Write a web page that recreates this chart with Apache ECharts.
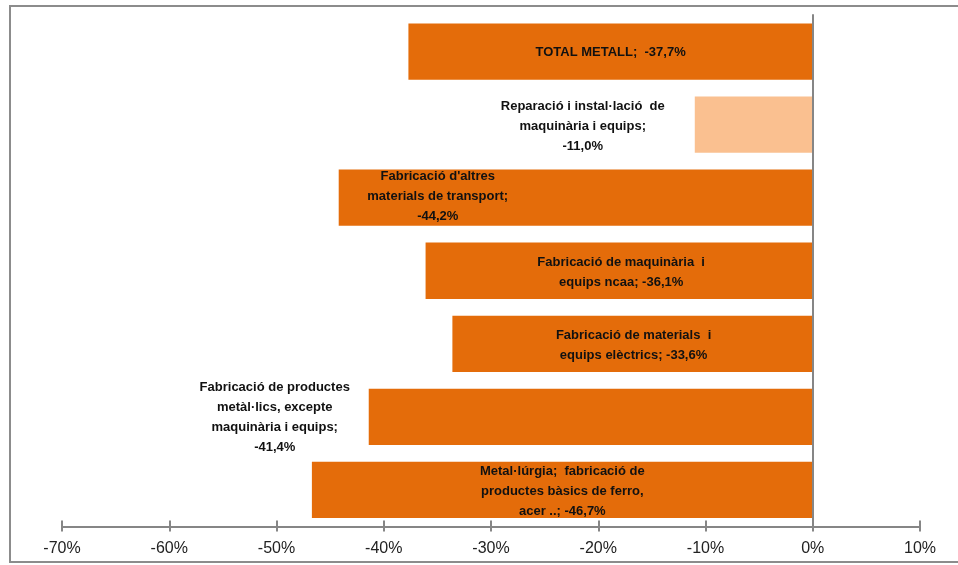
<!DOCTYPE html>
<html>
<head>
<meta charset="utf-8">
<script src="https://cdn.jsdelivr.net/npm/echarts@6/dist/echarts.min.js"></script>
<style>
html,body{margin:0;padding:0;background:#fff;}
#chart{width:958px;height:565px;}
</style>
</head>
<body>
<div id="chart"></div>
<script>
// ---- data ----
var categories = [
  "TOTAL METALL",
  "Reparació i instal·lació de maquinària i equips",
  "Fabricació d'altres materials de transport",
  "Fabricació de maquinària i equips ncaa",
  "Fabricació de materials i equips elèctrics",
  "Fabricació de productes metàl·lics, excepte maquinària i equips",
  "Metal·lúrgia; fabricació de productes bàsics de ferro, acer .."
];
var values = [-37.7, -11.0, -44.2, -36.1, -33.6, -41.4, -46.7];
var labelTexts = [
  "TOTAL METALL;  -37,7%",
  "Reparació i instal·lació  de\nmaquinària i equips;\n-11,0%",
  "Fabricació d'altres\nmaterials de transport;\n-44,2%",
  "Fabricació de maquinària  i\nequips ncaa; -36,1%",
  "Fabricació de materials  i\nequips elèctrics; -33,6%",
  "Fabricació de productes\nmetàl·lics, excepte\nmaquinària i equips;\n-41,4%",
  "Metal·lúrgia;  fabricació de\nproductes bàsics de ferro,\nacer ..; -46,7%"
];
var highlighted = [false, true, false, false, false, false, false];
var xTicks = [-70, -60, -50, -40, -30, -20, -10, 0, 10];

// ---- style ----
var DARK = '#E46C0A', LIGHT = '#FAC090', GRAY = '#868686';
var labelOffsets = [[0, 1], [-171, 2], [-138, -1], [2, 2], [1, 2], [-316, 1], [0, 1]];

var chart = echarts.init(document.getElementById('chart'), null, {renderer: 'canvas'});
var seriesData = values.map(function (v, i) {
  return {
    value: v,
    itemStyle: {color: highlighted[i] ? LIGHT : DARK},
    label: {offset: labelOffsets[i]}
  };
});

chart.setOption({
  animation: false,
  backgroundColor: '#fff',
  graphic: [{
    type: 'rect',
    shape: {x: 10, y: 6, width: 960, height: 556},
    style: {fill: 'none', stroke: '#8c8c8c', lineWidth: 2},
    silent: true
  }],
  grid: {left: 62, right: 38, top: 15, bottom: 38.5, containLabel: false},
  xAxis: [{
    type: 'value',
    min: xTicks[0], max: xTicks[xTicks.length - 1], interval: 10,
    splitLine: {show: false},
    axisLine: {show: true, lineStyle: {color: GRAY, width: 2}},
    axisTick: {show: true, inside: false, length: 5, lineStyle: {color: GRAY, width: 2}},
    axisLabel: {
      formatter: function (v) { return v + '%'; },
      fontFamily: 'Liberation Sans, Arial, sans-serif', fontSize: 16, color: '#222', margin: 14
    }
  }, {
    type: 'value',
    position: 'bottom',
    min: xTicks[0], max: xTicks[xTicks.length - 1], interval: 10,
    splitLine: {show: false},
    axisLine: {show: false},
    axisTick: {show: true, inside: true, length: 6, lineStyle: {color: GRAY, width: 2}},
    axisLabel: {show: false}
  }],
  yAxis: {
    type: 'category',
    data: categories,
    inverse: true,
    z: 10,
    axisLine: {show: true, onZero: true, lineStyle: {color: GRAY, width: 2}},
    axisTick: {show: false},
    axisLabel: {show: false},
    splitLine: {show: false}
  },
  series: [{
    type: 'bar',
    xAxisIndex: 0,
    data: seriesData,
    barCategoryGap: '23%',
    label: {
      show: true,
      position: 'inside',
      formatter: function (p) { return labelTexts[p.dataIndex]; },
      fontFamily: 'Liberation Sans, Arial, sans-serif',
      fontWeight: 'bold',
      fontSize: 13,
      lineHeight: 20,
      color: '#111',
      align: 'center'
    }
  }]
});
</script>
</body>
</html>
